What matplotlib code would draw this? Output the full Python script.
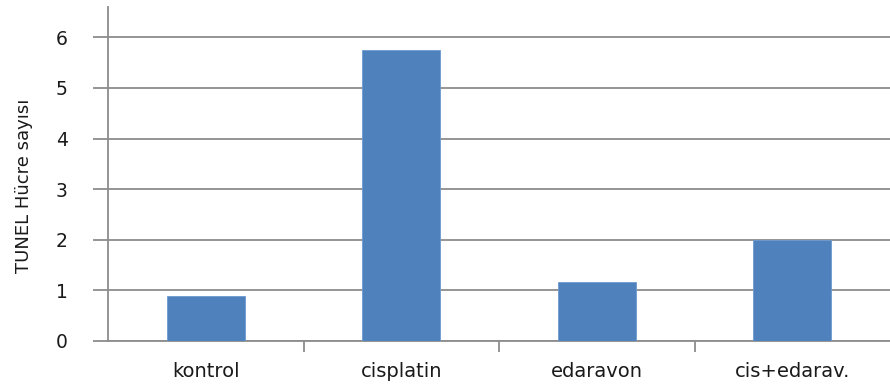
import matplotlib
matplotlib.use("Agg")
import matplotlib.pyplot as plt

categories = ["kontrol", "cisplatin", "edaravon", "cis+edarav."]
values = [0.88, 5.76, 1.16, 2.0]
yticks = [0, 1, 2, 3, 4, 5, 6]

fig = plt.figure(figsize=(8.9, 3.92), dpi=100)
ax = fig.add_axes([108/890, 51/392, 1 - 108/890, (341 - 7)/392])

x = list(range(len(categories)))
ax.bar(x, values, width=0.4, color="#4f81bd", edgecolor="#6f9ad0", linewidth=0.6, zorder=3)

ax.set_xlim(-0.5, len(categories) - 0.5)
ax.set_ylim(0, 6.6)
ax.set_yticks(yticks)
ax.set_yticklabels([str(t) for t in yticks], fontsize=13.5, color="#1a1a1a")
ax.yaxis.grid(True, color="#8c8c8c", linewidth=1.3, zorder=0)
ax.set_axisbelow(True)

ax.set_xticks([i + 0.5 for i in range(len(categories) - 1)], minor=False)
ax.set_xticklabels([])
ax.set_xticks(x, minor=True)
ax.set_xticklabels(categories, minor=True, fontsize=14, color="#1a1a1a")
ax.tick_params(axis="x", which="major", length=8, width=1.3, color="#8c8c8c", direction="out")
ax.tick_params(axis="x", which="minor", length=0, pad=15)
ax.tick_params(axis="y", length=11, width=1.3, color="#8c8c8c", pad=18)

for s in ["top", "right"]:
    ax.spines[s].set_visible(False)
ax.spines["left"].set_color("#8c8c8c")
ax.spines["left"].set_linewidth(1.3)
ax.spines["bottom"].set_color("#8c8c8c")
ax.spines["bottom"].set_linewidth(1.3)

ax.set_ylabel("TUNEL Hücre sayısı", fontsize=13, color="#1a1a1a")
ax.yaxis.set_label_coords(-75/782, (341 - 186)/334)

fig.savefig("out.png", dpi=100)
